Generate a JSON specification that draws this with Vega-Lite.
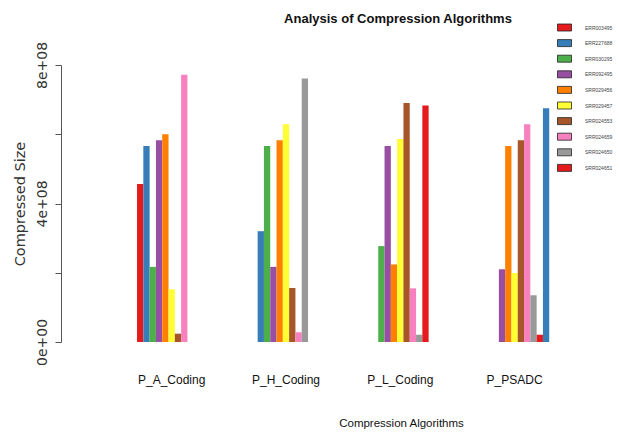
{
  "$schema": "https://vega.github.io/schema/vega-lite/v6.json",
  "autosize": "none",
  "width": 540,
  "height": 277,
  "padding": {"left": 61, "top": 65, "right": 18, "bottom": 95},
  "background": "white",
  "title": {
    "text": "Analysis of Compression Algorithms",
    "font": "Liberation Sans",
    "fontSize": 13,
    "fontWeight": "bold",
    "color": "#111111",
    "anchor": "middle",
    "frame": "group",
    "dx": 67,
    "offset": 0,
    "dy": 6
  },
  "data": {
    "values": [
      {"algorithm": "P_A_Coding", "sample": "ERR003495", "size": 456000000},
      {"algorithm": "P_A_Coding", "sample": "ERR227688", "size": 566000000},
      {"algorithm": "P_A_Coding", "sample": "ERR030295", "size": 217000000},
      {"algorithm": "P_A_Coding", "sample": "ERR092495", "size": 583000000},
      {"algorithm": "P_A_Coding", "sample": "SRR029456", "size": 600000000},
      {"algorithm": "P_A_Coding", "sample": "SRR029457", "size": 152000000},
      {"algorithm": "P_A_Coding", "sample": "SRR024553", "size": 24000000},
      {"algorithm": "P_A_Coding", "sample": "SRR024659", "size": 772000000},
      {"algorithm": "P_H_Coding", "sample": "ERR227688", "size": 320000000},
      {"algorithm": "P_H_Coding", "sample": "ERR030295", "size": 566000000},
      {"algorithm": "P_H_Coding", "sample": "ERR092495", "size": 217000000},
      {"algorithm": "P_H_Coding", "sample": "SRR029456", "size": 583000000},
      {"algorithm": "P_H_Coding", "sample": "SRR029457", "size": 629000000},
      {"algorithm": "P_H_Coding", "sample": "SRR024553", "size": 156000000},
      {"algorithm": "P_H_Coding", "sample": "SRR024659", "size": 28000000},
      {"algorithm": "P_H_Coding", "sample": "SRR024650", "size": 761000000},
      {"algorithm": "P_L_Coding", "sample": "ERR030295", "size": 277000000},
      {"algorithm": "P_L_Coding", "sample": "ERR092495", "size": 566000000},
      {"algorithm": "P_L_Coding", "sample": "SRR029456", "size": 224000000},
      {"algorithm": "P_L_Coding", "sample": "SRR029457", "size": 586000000},
      {"algorithm": "P_L_Coding", "sample": "SRR024553", "size": 690000000},
      {"algorithm": "P_L_Coding", "sample": "SRR024659", "size": 155000000},
      {"algorithm": "P_L_Coding", "sample": "SRR024650", "size": 21000000},
      {"algorithm": "P_L_Coding", "sample": "SRR024651", "size": 683000000},
      {"algorithm": "P_PSADC", "sample": "ERR092495", "size": 210000000},
      {"algorithm": "P_PSADC", "sample": "SRR029456", "size": 566000000},
      {"algorithm": "P_PSADC", "sample": "SRR029457", "size": 199000000},
      {"algorithm": "P_PSADC", "sample": "SRR024553", "size": 583000000},
      {"algorithm": "P_PSADC", "sample": "SRR024659", "size": 629000000},
      {"algorithm": "P_PSADC", "sample": "SRR024650", "size": 135000000},
      {"algorithm": "P_PSADC", "sample": "SRR024651", "size": 21000000},
      {"algorithm": "P_PSADC", "sample": "SRR024652", "size": 675000000}
    ]
  },
  "mark": {"type": "bar"},
  "encoding": {
    "x": {
      "field": "algorithm",
      "type": "nominal",
      "sort": ["P_A_Coding", "P_H_Coding", "P_L_Coding", "P_PSADC"],
      "scale": {"paddingInner": 0.394, "paddingOuter": 0.559, "align": 0.595},
      "title": "Compression Algorithms",
      "axis": {
        "domain": false,
        "ticks": false,
        "labelAngle": 0,
        "labelPadding": 32,
        "labelFont": "Liberation Sans",
        "labelFontSize": 12,
        "labelColor": "#111111",
        "titleFont": "Liberation Sans",
        "titleFontSize": 11.5,
        "titleFontWeight": "normal",
        "titleColor": "#111111",
        "titleX": 340,
        "titleY": 81,
        "titleAlign": "center",
        "titleBaseline": "middle"
      }
    },
    "xOffset": {
      "field": "sample",
      "type": "nominal",
      "scale": {
        "domain": ["ERR003495", "ERR227688", "ERR030295", "ERR092495", "SRR029456", "SRR029457", "SRR024553", "SRR024659", "SRR024650", "SRR024651", "SRR024652"],
        "paddingInner": 0,
        "paddingOuter": 0
      }
    },
    "y": {
      "field": "size",
      "type": "quantitative",
      "scale": {"domain": [0, 800000000], "nice": false},
      "title": "Compressed Size",
      "axis": {
        "grid": false,
        "values": [0, 200000000, 400000000, 600000000, 800000000],
        "labelExpr": "datum.value == 0 ? '0e+00' : datum.value == 400000000 ? '4e+08' : datum.value == 800000000 ? '8e+08' : ''",
        "labelAngle": -90,
        "labelAlign": "center",
        "labelBaseline": "bottom",
        "labelFont": "DejaVu Sans",
        "labelFontSize": 14,
        "labelColor": "#333333",
        "labelPadding": 6,
        "labelOverlap": false,
        "tickSize": 6,
        "tickColor": "#555555",
        "domainColor": "#555555",
        "titleFont": "DejaVu Sans",
        "titleFontSize": 14.5,
        "titleFontWeight": "normal",
        "titleColor": "#333333",
        "titlePadding": 8
      }
    },
    "color": {
      "field": "sample",
      "type": "nominal",
      "scale": {
        "domain": ["ERR003495", "ERR227688", "ERR030295", "ERR092495", "SRR029456", "SRR029457", "SRR024553", "SRR024659", "SRR024650", "SRR024651", "SRR024652"],
        "range": ["#E41A1C", "#377EB8", "#4DAF4A", "#984EA3", "#FF7F00", "#FFFF33", "#A65628", "#F781BF", "#999999", "#E41A1C", "#377EB8"]
      },
      "legend": {
        "title": null,
        "values": ["ERR003495", "ERR227688", "ERR030295", "ERR092495", "SRR029456", "SRR029457", "SRR024553", "SRR024659", "SRR024650", "SRR024651"],
        "orient": "none",
        "legendX": 496,
        "legendY": -45,
        "padding": 0,
        "symbolType": "M-1,-0.5L1,-0.5L1,0.5L-1,0.5Z",
        "symbolSize": 196,
        "symbolStrokeColor": "#222222",
        "symbolStrokeWidth": 0.8,
        "symbolOpacity": 1,
        "labelFont": "Liberation Sans",
        "labelFontSize": 5,
        "labelColor": "#444444",
        "labelOffset": 13,
        "rowPadding": 2.6
      }
    }
  },
  "config": {"view": {"stroke": null}}
}
